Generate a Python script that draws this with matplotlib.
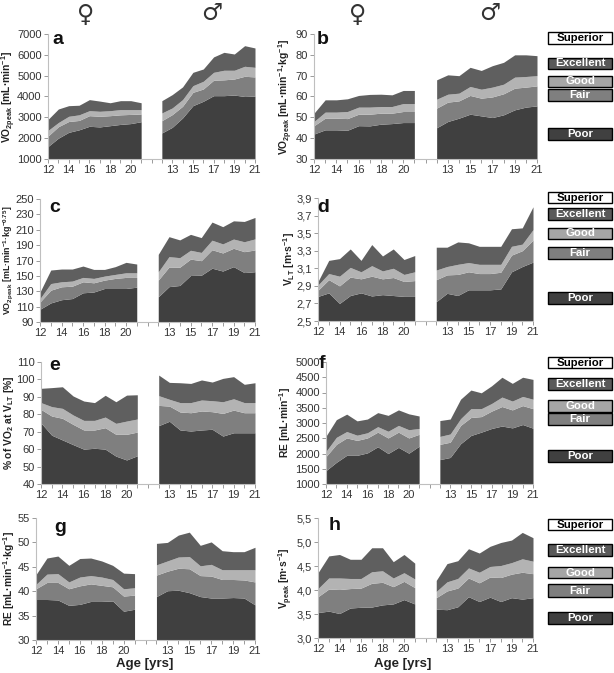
import numpy as np
import matplotlib
matplotlib.use('Agg')
import matplotlib.pyplot as plt
from matplotlib.patches import Rectangle

plt.rcParams['font.family'] = ['Liberation Sans', 'DejaVu Sans']
plt.rcParams['mathtext.fontset'] = 'custom'
plt.rcParams['mathtext.rm'] = 'Liberation Sans:bold'
plt.rcParams['mathtext.bf'] = 'Liberation Sans:bold'
plt.rcParams['mathtext.default'] = 'bf'

# ages 12..21 for each sex
ages = list(range(12, 22))
levels = ['Poor', 'Fair', 'Good', 'Excellent']

# upper boundaries of each band (Poor, Fair, Good, Excellent), female then male
a_f = [[1600, 2000, 2280, 2400, 2570, 2540, 2600, 2660, 2700, 2790],
       [2100, 2550, 2800, 2850, 3080, 3050, 3080, 3120, 3140, 3160],
       [2370, 2750, 3050, 3120, 3320, 3290, 3320, 3370, 3370, 3370],
       [2900, 3400, 3560, 3580, 3850, 3780, 3700, 3800, 3800, 3700]]
a_m = [[2250, 2520, 2970, 3560, 3770, 4040, 4040, 4070, 4000, 4020],
       [2840, 3130, 3530, 4200, 4360, 4780, 4800, 4840, 4970, 4940],
       [3210, 3450, 3850, 4520, 4730, 5160, 5260, 5260, 5450, 5400],
       [3800, 4090, 4460, 5160, 5320, 5900, 6120, 6040, 6440, 6330]]

b_f = [[42, 44, 44, 43.8, 46, 45.9, 46.7, 47, 47.5, 47.5],
       [46, 49.6, 49.6, 49.4, 51.5, 51.5, 52, 52, 52.8, 52.8],
       [48, 52.5, 52.5, 52.8, 54.9, 54.9, 55.2, 55.2, 56.6, 56.6],
       [52, 58.4, 58.4, 58.9, 60.5, 61, 61.1, 60.8, 62.9, 62.9]]
b_m = [[45, 48, 49.6, 51.5, 50.7, 49.9, 51.2, 53.6, 54.9, 55.5],
       [54.4, 57.3, 57.9, 60.5, 59.2, 59.8, 61.3, 64, 64.5, 65.1],
       [58.7, 61.1, 61.6, 64.8, 63.5, 64.5, 65.9, 69.3, 69.6, 70],
       [68, 70.4, 70, 74, 72.5, 74.8, 76.4, 80, 80, 79.6]]

c_f = [[106.6, 114.8, 119, 120.5, 128, 129, 133.6, 133.6, 133.6, 135.3],
       [116, 131.4, 135.8, 136.6, 142.3, 141, 144.5, 146.7, 148, 148],
       [120.5, 140, 142.3, 143.2, 148, 146.7, 149.7, 151.9, 154, 154],
       [129, 157.6, 158.9, 158.9, 162.8, 158.4, 158.4, 162, 167.6, 165.4]]
c_m = [[122.7, 136, 137.5, 150.5, 150.8, 160, 156.3, 162, 154.3, 155.4],
       [144.5, 161.5, 161.3, 171.8, 169.8, 184, 179.8, 185.9, 181.5, 183.7],
       [155.2, 175, 173.7, 183.3, 180.5, 196.4, 191.6, 197.9, 194.4, 198.1],
       [178, 201, 196.8, 204, 199.8, 220, 214, 221.6, 220.8, 226]]

d_f = [[2.78, 2.82, 2.70, 2.79, 2.82, 2.785, 2.80, 2.79, 2.78, 2.78],
       [2.85, 2.97, 2.90, 3.00, 2.98, 3.01, 2.98, 2.995, 2.95, 2.96],
       [2.91, 3.04, 3.01, 3.11, 3.06, 3.13, 3.07, 3.10, 3.03, 3.06],
       [2.95, 3.19, 3.21, 3.32, 3.19, 3.37, 3.24, 3.32, 3.20, 3.245]]
d_m = [[2.72, 2.815, 2.79, 2.855, 2.855, 2.855, 2.865, 3.06, 3.12, 3.17],
       [2.97, 3.025, 3.03, 3.06, 3.04, 3.04, 3.055, 3.25, 3.30, 3.42],
       [3.08, 3.12, 3.145, 3.165, 3.145, 3.145, 3.145, 3.35, 3.375, 3.54],
       [3.34, 3.34, 3.40, 3.39, 3.35, 3.35, 3.35, 3.55, 3.56, 3.80]]

e_f = [[75, 68, 65.3, 62.6, 60, 60.5, 60, 56, 53.8, 56.2],
       [82.8, 79, 77.7, 74.2, 71, 71, 72.3, 68.5, 68.5, 69.8],
       [86.7, 84.4, 83.4, 79.6, 76.5, 76.5, 78.4, 74.8, 76.1, 77.3],
       [94.9, 95.3, 95.8, 90.5, 87.6, 86.7, 90.9, 87.2, 91, 91.2]]
e_m = [[73.5, 76, 71, 70.4, 71, 71.4, 67.5, 69.4, 69.4, 69.4],
       [85.1, 84.7, 81.3, 80.9, 81.9, 81.5, 80.5, 82.4, 80.9, 80.9],
       [90.7, 88.6, 86.7, 86.7, 88.2, 87.8, 87.2, 88.9, 86.7, 86.7],
       [102.5, 98.3, 98.1, 97.7, 99.7, 98.5, 100.6, 101.6, 97.2, 98.1]]

f_f = [[1440, 1710, 1940, 1940, 2020, 2220, 2000, 2200, 2010, 2240],
       [1900, 2300, 2510, 2430, 2510, 2700, 2510, 2700, 2510, 2630],
       [2070, 2530, 2720, 2600, 2680, 2880, 2730, 2920, 2780, 2820],
       [2570, 3110, 3290, 3070, 3130, 3340, 3250, 3430, 3300, 3230]]
f_m = [[1800, 1870, 2320, 2590, 2700, 2820, 2900, 2840, 2950, 2830],
       [2300, 2370, 2920, 3180, 3210, 3390, 3540, 3430, 3570, 3470],
       [2560, 2640, 3140, 3470, 3470, 3640, 3850, 3720, 3870, 3780],
       [3080, 3130, 3780, 4080, 3990, 4220, 4500, 4300, 4500, 4430]]

g_f = [[38.3, 38.3, 38.2, 37.1, 37.3, 37.9, 37.9, 38, 35.9, 36.3],
       [40.5, 41.8, 41.8, 40.5, 41.1, 41.5, 41.2, 40.9, 39, 39.2],
       [41.4, 43.5, 43.6, 41.9, 42.9, 43.2, 42.9, 42.4, 40.5, 40.7],
       [43.4, 46.8, 47.2, 45.3, 46.7, 46.8, 46.2, 45.3, 43.7, 43.6]]
g_m = [[38.9, 40.1, 40.2, 39.7, 38.9, 38.6, 38.6, 38.7, 38.6, 37.2],
       [43.3, 44.1, 44.7, 44.6, 43.2, 43.1, 42.4, 42.4, 42.3, 41.9],
       [45.4, 46.2, 47.0, 47.1, 45.2, 45.5, 44.4, 44.4, 44.4, 44.4],
       [49.8, 50.0, 51.5, 52.1, 49.4, 50.1, 48.3, 48.1, 48.1, 49.0]]

h_f = [[3.53, 3.56, 3.51, 3.625, 3.64, 3.645, 3.69, 3.71, 3.80, 3.71],
       [3.86, 4.02, 4.01, 4.03, 4.04, 4.14, 4.16, 4.07, 4.18, 4.05],
       [4.03, 4.25, 4.25, 4.24, 4.24, 4.38, 4.40, 4.25, 4.36, 4.23],
       [4.36, 4.71, 4.74, 4.64, 4.64, 4.88, 4.88, 4.59, 4.74, 4.56]]
h_m = [[3.60, 3.59, 3.65, 3.86, 3.76, 3.85, 3.76, 3.84, 3.81, 3.84],
       [3.84, 3.98, 4.04, 4.25, 4.15, 4.27, 4.26, 4.33, 4.37, 4.34],
       [3.97, 4.17, 4.24, 4.46, 4.37, 4.49, 4.51, 4.57, 4.65, 4.60],
       [4.20, 4.55, 4.61, 4.86, 4.77, 4.91, 4.99, 5.04, 5.20, 5.09]]

panels = [
    # letter, female, male, ylim, yticks, tick labels, ylabel
    ('a', a_f, a_m, (1000, 7000), np.arange(1000, 7001, 1000), None,
     r'VO$_{2peak}$ [mL·min$^{-1}$]'),
    ('b', b_f, b_m, (30, 90), np.arange(30, 91, 10), None,
     r'VO$_{2peak}$ [mL·min$^{-1}$·kg$^{-1}$]'),
    ('c', c_f, c_m, (90, 250), np.arange(90, 251, 20), None,
     r'VO$_{2peak}$ [mL·min$^{-1}$·kg$^{-0.75}$]'),
    ('d', d_f, d_m, (2.5, 3.9), np.arange(2.5, 3.91, 0.2),
     ['2,5', '2,7', '2,9', '3,1', '3,3', '3,5', '3,7', '3,9'],
     r'V$_{LT}$ [m·s$^{-1}$]'),
    ('e', e_f, e_m, (40, 110), np.arange(40, 111, 10), None,
     r'% of VO$_{2}$ at V$_{LT}$ [%]'),
    ('f', f_f, f_m, (1000, 5000), np.arange(1000, 5001, 500), None,
     r'RE [mL·min$^{-1}$]'),
    ('g', g_f, g_m, (30, 55), np.arange(30, 56, 5), None,
     r'RE [mL·min$^{-1}$·kg$^{-1}$]'),
    ('h', h_f, h_m, (3.0, 5.5), np.arange(3.0, 5.51, 0.5),
     ['3,0', '3,5', '4,0', '4,5', '5,0', '5,5'],
     r'V$_{peak}$ [m·s$^{-1}$]'),
]

# plot boxes in pixels: left, right, top, bottom ; ylabel x, size, align ; letter x, y
boxes = [
    (48, 255, 34, 159, 9, 7.4, 'center', 58, 40),
    (314, 537, 34, 159, 286, 7.4, 'center', 323, 40),
    (40, 255, 199, 322, 1, 6.4, 'left', 55, 208),
    (318, 533, 198, 321, 289, 7.4, 'center', 323, 208),
    (41, 255, 362, 484, 9, 7.4, 'center', 55, 365),
    (326, 533, 362, 484, 285, 7.4, 'center', 322, 363),
    (36, 255, 518, 640, 9, 7.4, 'center', 60, 527),
    (318, 533, 518, 638, 286, 7.4, 'center', 335, 525),
]

# legend box tops / bottoms per row (pixels)
legend_rows = [
    [(32, 44), (58, 69), (76, 87), (89, 101), (128, 140)],
    [(192, 203), (208, 220), (228, 239), (247, 259), (292, 304)],
    [(357, 368), (378, 390), (400, 412), (413, 425), (450, 462)],
    [(519, 530), (544, 556), (567, 578), (584, 597), (612, 624)],
]
leg_names = ['Superior', 'Excellent', 'Good', 'Fair', 'Poor']
leg_fill = ['white', '#595959', '#a6a6a6', '#7f7f7f', '#404040']
leg_text = ['black', 'white', 'white', 'white', 'white']

band_colors = ['#404040', '#7f7f7f', '#b3b3b3', '#5f5f5f']

W, H = 614, 673
fig = plt.figure(figsize=(W / 100, H / 100), dpi=100)

xf = np.arange(0, 10)
xm = np.arange(11, 21)
xlabels = []
for i in range(21):
    if i % 2 == 0 and i < 10:
        xlabels.append(str(ages[i]))
    elif i % 2 == 0 and i > 10:
        xlabels.append(str(ages[i - 11]))
    else:
        xlabels.append('')

for k, (letter, fem, mal, ylim, yt, ytl, ylab) in enumerate(panels):
    l, r, t, b, ylx, yls, yha, lx, ly = boxes[k]
    ax = fig.add_axes([l / W, 1 - b / H, (r - l) / W, (b - t) / H])
    for x, data in ((xf, fem), (xm, mal)):
        lower = np.full(len(x), ylim[0], dtype=float)
        for j in range(4):
            upper = np.array(data[j], dtype=float)
            ax.fill_between(x, lower, upper, color=band_colors[j], lw=0)
            lower = upper
    ax.set_xlim(0, 20)
    ax.set_ylim(*ylim)
    ax.set_yticks(yt)
    if ytl is not None:
        ax.set_yticklabels(ytl)
    ax.set_xticks(np.arange(21))
    ax.set_xticklabels(xlabels)
    for s in ['top', 'right']:
        ax.spines[s].set_visible(False)
    for s in ['left', 'bottom']:
        ax.spines[s].set_color('#bfbfbf')
        ax.spines[s].set_linewidth(0.8)
    ax.tick_params(axis='both', colors='#9a9a9a', labelcolor='#333333',
                   labelsize=8.0, length=3, width=0.7, pad=1.5)
    ax.patch.set_alpha(0)
    fig.text(ylx / W, 1 - (t + b) / 2 / H, ylab, rotation=90, ha=yha,
             va='center', fontsize=yls, fontweight='bold', color='#222222')
    fig.text(lx / W, 1 - ly / H, letter, ha='center', va='center',
             fontsize=14, fontweight='bold', color='#111111')

# legend boxes
for row in legend_rows:
    for (top, bot), name, fc, tc in zip(row, leg_names, leg_fill, leg_text):
        fig.patches.append(Rectangle((548 / W, 1 - bot / H), 64 / W, (bot - top) / H,
                                     transform=fig.transFigure, facecolor=fc,
                                     edgecolor='black', lw=1.0))
        fig.text(580 / W, 1 - (top + bot) / 2 / H, name, ha='center', va='center',
                 fontsize=8.2, fontweight='bold', color=tc)

# sex symbols
for x, y, sym in ((86, 15, '♀'), (212, 13, '♂'), (358, 15, '♀'), (490, 13, '♂')):
    fig.text(x / W, 1 - y / H, sym, ha='center', va='center', fontsize=17,
             fontweight='bold', color='#333333', family='DejaVu Sans')

fig.text(145 / W, 1 - 664 / H, 'Age [yrs]', ha='center', va='center',
         fontsize=9.5, fontweight='bold', color='#222222')
fig.text(403 / W, 1 - 664 / H, 'Age [yrs]', ha='center', va='center',
         fontsize=9.5, fontweight='bold', color='#222222')

fig.savefig('out.png', dpi=100)
